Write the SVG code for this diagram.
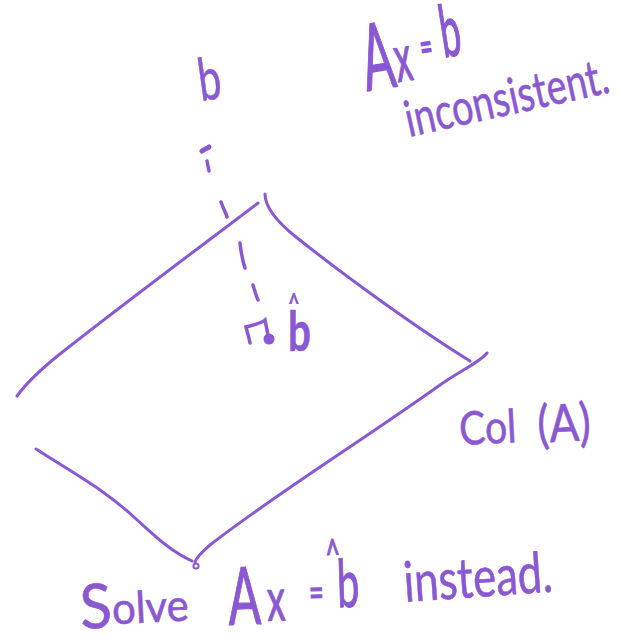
<svg xmlns="http://www.w3.org/2000/svg" width="621" height="634" viewBox="0 0 621 634">
<style>
.s{fill:none;stroke:#8a58d2;stroke-linecap:round;stroke-linejoin:round;stroke-width:3}
.d{fill:none;stroke:#8a58d2;stroke-linecap:round;stroke-width:3.5}
text{fill:#8a58d2;stroke:#8a58d2;stroke-width:.6;font-family:"Lato","Liberation Sans",sans-serif}
</style>
<rect width="621" height="634" fill="#fff"/>
<g id="plane">
<path class="s" d="M258 203C200 247 110 314 55 358C38 372 25 385 17 396"/>
<path class="s" d="M265 194C265 207 276 221 296 237C350 280 420 330 470 361"/>
<path class="s" d="M487 353C480 362 465 368 440 385C360 442 270 498 210 545C203 551 197 556 195 562"/>
<path class="s" d="M36 449C78 476 105 490 135 518C155 536 170 551 192 561"/>
<circle cx="196" cy="566" r="2.6" fill="none" stroke="#8a58d2" stroke-width="2"/>
</g>
<g id="connectors">
<path class="d" style="stroke-width:5" d="M202 151C205 149 208 148 209 147"/>
<path class="d" d="M207 161L209 171"/>
<path class="d" d="M221 202C223 208 226 213 227 217"/>
<path class="d" d="M240 243C241 252 243 262 245 268"/>
<path class="d" d="M253 285C255 291 256 296 258 300"/>
<path class="d" d="M250 343C249 337 247 332 246 327C253 325 260 324 265 320C266 325 267 330 268 335"/>
<circle cx="269" cy="339" r="5.5" fill="#8a58d2"/>
</g>
<g id="label-b"><text transform="translate(201 101) rotate(-8) scale(.72 1.05)" font-size="56">b</text></g>
<g id="label-bhat"><text transform="translate(288 351) scale(.72 1)" font-size="56" font-weight="700">b<tspan x="0" dy="-37" font-size="28" style="stroke-width:.2">^</tspan></text></g>
<g id="label-axb"><text transform="translate(367 91) rotate(-9) scale(.5 1)" font-size="92" style="stroke-width:1.5">A<tspan x="64" dy="-4" font-size="66">x</tspan><tspan x="118" dy="-16" font-size="42">=</tspan><tspan x="162" dy="-1" font-size="72">b</tspan></text></g>
<g id="label-inconsistent"><text transform="translate(409 137) rotate(-12.5) scale(.75 1)" font-size="50" font-weight="400">inconsistent.</text></g>
<g id="label-col"><text transform="translate(460 445) rotate(-3) scale(.85 1)" font-size="46">Col<tspan x="92" dy="2" font-size="52">(A)</tspan></text></g>
<g id="label-solve"><text transform="translate(81 629) rotate(-3) scale(.95 1)" font-size="62">S<tspan font-size="44" dy="-3">olve</tspan></text></g>
<g id="label-ax"><text transform="translate(229 625) rotate(-2) scale(.6 1)" font-size="80" style="stroke-width:1.2">A<tspan x="65" dy="-3" font-size="60">x</tspan><tspan x="135" dy="-12" font-size="42">=</tspan><tspan x="182" dy="1" font-size="66">b</tspan><tspan x="165" dy="-38" font-size="42">^</tspan></text></g>
<g id="label-instead"><text transform="translate(405 602) rotate(-4) scale(.78 1)" font-size="56">instead.</text></g>
</svg>
